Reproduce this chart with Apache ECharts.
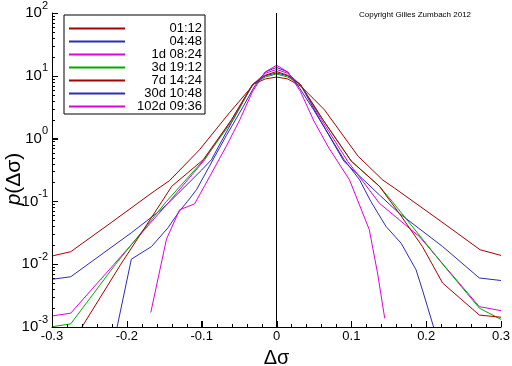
<!DOCTYPE html>
<html>
<head>
<meta charset="utf-8">
<script src="https://cdn.jsdelivr.net/npm/echarts@6/dist/echarts.min.js"></script>
<style>html,body{margin:0;padding:0;background:#fff}#c{width:512px;height:366px}</style>
</head>
<body>
<div id="c"></div>
<script>
// Series names (legend)
const seriesNames = ['01:12', '04:48', '1d 08:24', '3d 19:12', '7d 14:24', '30d 10:48', '102d 09:36'];

// Δσ positions and p(Δσ) values
const x_0112 = [-0.3, -0.275, -0.22, -0.165, -0.143, -0.103, -0.063, -0.03, -0.015, 0, 0.015, 0.033, 0.064, 0.109, 0.142, 0.158, 0.22, 0.272, 0.3];
const p_0112 = [0.0135, 0.0158, 0.0468, 0.141, 0.214, 0.661, 2.57, 7.41, 8.91, 9.55, 8.91, 6.76, 2.88, 0.525, 0.219, 0.162, 0.0479, 0.017, 0.0138];

const x_0448 = [-0.3, -0.275, -0.194, -0.154, -0.14, -0.1, -0.087, -0.058, -0.032, -0.015, 0, 0.015, 0.032, 0.058, 0.09, 0.1375, 0.164, 0.222, 0.271, 0.3];
const p_0448 = [0.00575, 0.00631, 0.0316, 0.0741, 0.106, 0.316, 0.46, 2.0, 7.24, 10.0, 11.1, 10.0, 7.24, 2.0, 0.437, 0.127, 0.0646, 0.0191, 0.00603, 0.0055];

const x_1d = [-0.3, -0.275, -0.217, -0.143, -0.096, -0.06, -0.032, -0.015, 0, 0.015, 0.032, 0.06, 0.095, 0.1375, 0.191, 0.271, 0.3];
const p_1d = [0.0015, 0.00166, 0.01, 0.1, 0.46, 2.0, 7.24, 10.96, 12.6, 10.96, 7.24, 2.0, 0.437, 0.0933, 0.0275, 0.00211, 0.00182];

const x_3d = [-0.3, -0.275, -0.215, -0.147, -0.097, -0.058, -0.032, -0.015, 0, 0.015, 0.032, 0.062, 0.1, 0.1375, 0.1545, 0.222, 0.271, 0.3];
const p_3d = [0.00101, 0.00112, 0.01, 0.1, 0.46, 2.0, 7.24, 9.55, 10.7, 9.55, 7.24, 2.0, 0.437, 0.174, 0.1, 0.01, 0.002, 0.00132];

const x_7d = [-0.3, -0.275, -0.26, -0.208, -0.153, -0.14, -0.098, -0.06, -0.032, -0.015, 0, 0.015, 0.032, 0.062, 0.1, 0.1375, 0.164, 0.195, 0.222, 0.271, 0.3];
const p_7d = [0.00045, 0.000525, 0.001, 0.01, 0.1, 0.174, 0.46, 2.0, 7.24, 10.2, 11.7, 10.2, 7.24, 2.0, 0.437, 0.174, 0.0646, 0.0191, 0.00501, 0.00155, 0.00143];

const x_30d = [-0.22, -0.194, -0.167, -0.145, -0.13, -0.119, -0.107, -0.067, -0.045, -0.03, -0.015, 0, 0.015, 0.03, 0.05, 0.09, 0.111, 0.126, 0.1464, 0.1665, 0.1865, 0.195, 0.215];
const p_30d = [0.0004, 0.012, 0.0191, 0.038, 0.0692, 0.1, 0.153, 1.12, 3.16, 6.61, 11.5, 13.6, 11.5, 6.61, 2.82, 0.468, 0.221, 0.1, 0.0398, 0.0216, 0.00813, 0.00389, 0.00063];

const x_102d = [-0.168, -0.147, -0.1295, -0.1095, -0.096, -0.067, -0.049, -0.032, -0.015, 0, 0.015, 0.032, 0.05, 0.07, 0.0975, 0.124, 0.135, 0.1446];
const p_102d = [0.0017, 0.0251, 0.0735, 0.0912, 0.178, 0.759, 2.0, 5.62, 11.5, 14.7, 11.5, 5.62, 1.905, 0.708, 0.221, 0.0355, 0.00724, 0.00138];

// Axis tick values
const xMajorTicks = [-0.3, -0.2, -0.1, 0, 0.1, 0.2, 0.3];
const xMinorSteps = [0.02, 0.04, 0.06, 0.08];
const yDecades = [0.001, 0.01, 0.1, 1, 10, 100];
const yMinorMultipliers = [2, 3, 4, 5, 6, 7, 8, 9];

const xs = [x_0112, x_0448, x_1d, x_3d, x_7d, x_30d, x_102d];
const ps = [p_0112, p_0448, p_1d, p_3d, p_7d, p_30d, p_102d];
const colors = ['#a80000', '#2c2cb4', '#e000e0', '#00aa00', '#a80000', '#2c2cb4', '#e000e0'];

// tick lists: [x, y, isMajor]
const xMinorTicks = [];
xMajorTicks.slice(0, -1).forEach(t => xMinorSteps.forEach(s => xMinorTicks.push(+(t + s).toFixed(3))));
const yMinorTicks = [];
yDecades.slice(0, -1).forEach(d => yMinorMultipliers.forEach(m => yMinorTicks.push(+(m * d).toPrecision(3))));
const xTickData = xMajorTicks.map(v => [v, yDecades[0], 1]).concat(xMinorTicks.map(v => [v, yDecades[0], 0]));
const yTickData = yDecades.map(v => [xMajorTicks[0], v, 1]).concat(yMinorTicks.map(v => [xMajorTicks[0], v, 0]));

const FONT = 'Liberation Sans';

const series = seriesNames.map((name, i) => ({
  name: name,
  type: 'line',
  data: xs[i].map((x, j) => [x, ps[i][j]]),
  symbol: 'none',
  showSymbol: false,
  clip: true,
  lineStyle: { color: colors[i], width: 1 },
  itemStyle: { color: colors[i] },
  silent: true,
  z: 2
}));
series[series.length - 1].markLine = {
  silent: true,
  symbol: ['none', 'none'],
  label: { show: false },
  lineStyle: { color: '#000', width: 1, type: 'solid' },
  data: [{ xAxis: 0 }],
  z: 5
};
// inward axis ticks, placed through the axes' own scales (filled 1px rects)
series.push({
  type: 'custom', name: '_xticks', silent: true, z: 8, clip: false,
  encode: { x: 0, y: 1 },
  dimensions: ['x', 'y', 'major'],
  data: xTickData,
  renderItem: (params, api) => {
    const p = api.coord([api.value(0), api.value(1)]);
    const len = api.value(2) ? 6 : 3;
    const x = Math.round(p[0]);
    return { type: 'rect', shape: { x: x, y: Math.round(p[1]) - len, width: 1, height: len }, style: { fill: '#000' } };
  }
});
series.push({
  type: 'custom', name: '_yticks', silent: true, z: 8, clip: false,
  encode: { x: 0, y: 1 },
  dimensions: ['x', 'y', 'major'],
  data: yTickData,
  renderItem: (params, api) => {
    const p = api.coord([api.value(0), api.value(1)]);
    const len = api.value(2) ? 6 : 3;
    const y = Math.round(p[1]);
    return { type: 'rect', shape: { x: Math.round(p[0]), y: y, width: len, height: 1 }, style: { fill: '#000' } };
  }
});

const chart = echarts.init(document.getElementById('c'), null, { renderer: 'canvas' });
chart.setOption({
  animation: false,
  backgroundColor: '#fff',
  textStyle: { fontFamily: FONT },
  title: {
    text: 'Copyright Gilles Zumbach 2012',
    left: 359, top: 11, padding: 0,
    textStyle: { fontSize: 8, fontWeight: 'normal', color: '#000', fontFamily: FONT }
  },
  legend: {
    orient: 'vertical',
    left: 64, top: 15,
    padding: [7, 3, 1, 4],
    itemGap: 0,
    itemWidth: 56,
    itemHeight: 10,
    borderColor: '#000',
    borderWidth: 1,
    borderRadius: 0,
    backgroundColor: '#fff',
    itemStyle: { opacity: 0 },
    data: seriesNames,
    formatter: n => '{a|' + n + '}',
    textStyle: {
      color: '#000', fontFamily: FONT,
      rich: { a: { width: 72, align: 'right', fontSize: 13, lineHeight: 15.3, color: '#000', fontFamily: FONT } }
    }
  },
  grid: { left: 52, right: 11, top: 13, bottom: 39, outerBoundsMode: 'none', containLabel: false },
  xAxis: {
    type: 'value',
    min: -0.3, max: 0.3, interval: 0.1,
    name: 'Δσ',
    nameLocation: 'middle',
    nameGap: 21,
    nameMoveOverlap: false,
    nameTextStyle: { fontSize: 20, color: '#000', fontFamily: FONT },
    axisLine: { show: true, onZero: false, lineStyle: { color: '#000', width: 1 } },
    axisTick: { show: true, inside: true, length: 6, lineStyle: { color: '#000', width: 1 } },
    splitLine: { show: false },
    axisLabel: {
      color: '#000', fontSize: 13, margin: 3, fontFamily: FONT,
      formatter: v => (Math.abs(v) < 1e-9 ? '0' : v.toFixed(1))
    },
    z: 10
  },
  yAxis: {
    type: 'log',
    logBase: 10,
    min: 0.001, max: 100,
    splitNumber: 5,
    name: '{i|p}(Δσ)',
    nameLocation: 'middle',
    nameGap: 27,
    nameRotate: 90,
    nameMoveOverlap: false,
    nameTextStyle: {
      fontSize: 21, color: '#000', fontFamily: FONT, padding: [0, 18, 0, 0],
      rich: { i: { fontSize: 21, fontStyle: 'italic', color: '#000', fontFamily: FONT } }
    },
    axisLine: { show: true, onZero: false, lineStyle: { color: '#000', width: 1 } },
    axisTick: { show: true, inside: true, length: 6, lineStyle: { color: '#000', width: 1 } },
    splitLine: { show: false },
    axisLabel: {
      margin: 4,
      formatter: v => '{b|10}{s|' + Math.round(Math.log10(v)) + '}',
      rich: {
        b: { fontSize: 15, lineHeight: 26, color: '#000', fontFamily: FONT },
        s: { fontSize: 11, lineHeight: 11, verticalAlign: 'top', color: '#000', fontFamily: FONT }
      }
    },
    z: 10
  },
  series: series
});
</script>
</body>
</html>
